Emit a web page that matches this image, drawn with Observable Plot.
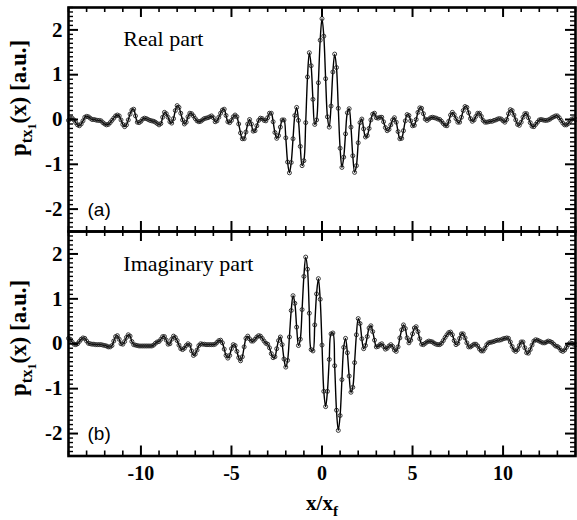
<!DOCTYPE html>
<html><head><meta charset="utf-8">
<script src="https://cdn.jsdelivr.net/npm/d3@7"></script>
<script src="https://cdn.jsdelivr.net/npm/@observablehq/plot@0.6"></script>
<style>
body{margin:0;background:#fff;}
#wrap{position:relative;width:577px;height:520px;overflow:hidden;background:#fff;}
#wrap svg{position:absolute;left:0;}
.lab{position:absolute;font-family:"Liberation Serif","Times New Roman",serif;font-weight:bold;white-space:nowrap;color:#000;line-height:1;}
.lab sub{font-size:72%;}
</style></head><body><div id="wrap"></div>
<script>
// sampling grid: x/x_f from -14 to 14, step 0.1
const xStart = -14, xStep = 0.1;
// Real part (panel a)
const realPart = [
-0.02,0.02,0.03,-0.01,-0.07,-0.12,-0.14,-0.10,-0.03,0.05,
0.07,0.06,0.03,0.00,0.00,-0.01,-0.02,-0.02,-0.03,-0.07,
-0.10,-0.12,-0.11,-0.07,-0.02,0.03,0.08,0.10,0.08,-0.01,
-0.11,-0.16,-0.12,-0.01,0.12,0.21,0.23,0.08,-0.06,-0.07,
-0.04,0.01,0.03,0.02,0.00,-0.02,-0.03,-0.04,-0.06,-0.09,
-0.12,-0.09,0.05,0.16,0.13,0.05,-0.05,-0.08,0.02,0.20,
0.31,0.27,0.14,-0.01,-0.10,-0.06,0.06,0.14,0.13,0.08,
0.02,-0.03,-0.05,-0.04,-0.01,0.02,0.03,0.04,0.06,0.08,
0.04,-0.05,-0.03,0.05,0.14,0.21,0.23,0.09,-0.05,-0.07,
-0.02,0.06,0.10,0.06,-0.10,-0.30,-0.43,-0.43,-0.28,-0.10,
0.00,-0.10,-0.26,-0.25,-0.14,-0.02,0.03,0.02,-0.02,-0.03,
0.04,0.14,0.14,-0.05,-0.29,-0.42,-0.36,-0.17,-0.01,-0.01,
-0.41,-0.95,-1.19,-0.96,-0.43,0.09,0.27,-0.02,-0.60,-1.03,
-0.92,-0.07,0.95,1.49,1.20,0.45,-0.11,-0.01,0.82,1.77,
2.25,1.86,0.91,0.06,-0.17,0.30,1.06,1.46,1.16,0.25,
-0.64,-1.07,-0.84,-0.32,0.15,0.24,-0.17,-0.81,-1.18,-1.03,
-0.52,-0.07,0.01,-0.21,-0.39,-0.36,-0.20,-0.01,0.12,0.14,
0.04,0.03,0.05,0.05,-0.05,-0.18,-0.25,-0.22,-0.12,-0.01,
0.04,-0.06,-0.27,-0.43,-0.42,-0.25,-0.03,0.11,0.09,-0.03,
-0.14,-0.13,0.00,0.16,0.26,0.25,0.13,0.01,-0.02,0.01,
0.04,0.05,0.04,0.03,0.01,0.00,-0.04,-0.09,-0.13,-0.14,
-0.04,0.10,0.16,0.11,0.02,-0.06,-0.06,0.05,0.20,0.29,
0.27,0.15,0.02,-0.04,-0.01,0.07,0.14,0.14,0.07,-0.02,
-0.06,-0.06,-0.05,-0.04,-0.04,-0.02,-0.01,0.01,0.02,0.01,
-0.03,-0.06,0.00,0.13,0.22,0.20,0.10,-0.01,-0.11,-0.13,
-0.06,0.05,0.13,0.13,0.04,-0.07,-0.15,-0.16,-0.11,-0.06,
-0.01,0.00,-0.01,-0.02,-0.02,-0.01,0.01,0.04,0.06,0.08,
0.08,0.04,-0.02,-0.08,-0.12,-0.12,-0.09,-0.04,0.01,0.02,
0.00
];
// Imaginary part (panel b)
const imagPart = [
0.12,0.10,0.04,-0.01,-0.02,0.00,0.05,0.10,0.13,0.12,
0.06,0.01,0.00,-0.01,-0.01,-0.02,-0.02,-0.02,-0.02,-0.03,
-0.04,-0.05,-0.07,-0.07,-0.04,0.06,0.16,0.18,0.10,0.00,
-0.01,0.05,0.14,0.20,0.17,0.05,-0.02,-0.03,-0.04,-0.05,
-0.05,-0.05,-0.05,-0.05,-0.05,-0.05,-0.05,-0.03,0.01,0.04,
0.05,0.10,0.16,0.16,0.08,-0.01,0.00,0.10,0.17,0.14,
0.07,-0.03,-0.11,-0.13,-0.10,-0.04,0.00,-0.03,-0.16,-0.26,
-0.23,-0.14,-0.04,0.00,-0.01,-0.01,-0.02,-0.02,-0.02,-0.02,
-0.02,-0.01,0.03,0.07,0.08,0.02,-0.12,-0.26,-0.32,-0.26,
-0.11,-0.02,-0.04,-0.17,-0.31,-0.38,-0.29,-0.07,0.12,0.17,
0.11,0.06,0.06,0.10,0.15,0.18,0.17,0.12,0.06,0.01,
-0.01,-0.09,-0.22,-0.31,-0.29,-0.11,0.07,0.15,-0.02,-0.34,
-0.52,-0.37,0.15,0.74,1.07,0.90,0.37,-0.04,0.10,0.76,
1.50,1.93,1.66,0.68,-0.13,-0.16,0.42,1.11,1.45,0.99,
-0.03,-1.06,-1.40,-1.06,-0.35,0.22,0.24,-0.49,-1.48,-1.93,
-1.60,-0.80,-0.08,0.12,-0.20,-0.72,-1.08,-0.97,-0.42,0.20,
0.56,0.45,0.11,-0.11,-0.04,0.16,0.35,0.40,0.27,0.08,
-0.07,-0.06,-0.02,0.00,-0.06,-0.12,-0.10,-0.05,-0.02,-0.06,
-0.14,-0.17,-0.07,0.13,0.31,0.42,0.34,0.13,0.02,0.08,
0.22,0.35,0.38,0.27,0.11,-0.01,-0.02,0.01,0.04,0.06,
0.05,0.04,0.01,-0.01,-0.02,-0.02,0.01,0.07,0.14,0.20,
0.25,0.26,0.20,0.07,-0.02,0.01,0.12,0.22,0.22,0.13,
0.02,-0.07,-0.07,-0.04,-0.01,-0.01,-0.05,-0.12,-0.16,-0.16,
-0.10,-0.02,0.02,0.03,0.04,0.05,0.07,0.08,0.08,0.09,
0.11,0.12,0.13,0.12,0.04,-0.06,-0.14,-0.17,-0.13,-0.04,
0.04,0.04,-0.09,-0.20,-0.21,-0.13,-0.03,0.06,0.09,0.08,
0.06,0.04,0.02,0.02,0.04,0.06,0.05,0.03,-0.01,-0.05,
-0.06,-0.09,-0.15,-0.17,-0.14,-0.08,-0.02,0.02,0.01,-0.01,
-0.02
];
const xMajorTicks = [-10, -5, 0, 5, 10];
const xMinorTicks = d3.range(-14, 15).filter(d => d % 5 !== 0);
const yMajorTicks = [-2, -1, 0, 1, 2];
const yMinorTicks = d3.range(-25, 26).map(d => d / 10).filter(d => !Number.isInteger(d));
const panelTitles = ["Real part", "Imaginary part"];
const panelTags = ["(a)", "(b)"];

const xValues = realPart.map((_, i) => +(xStart + i * xStep).toFixed(1));
const wrap = document.getElementById("wrap");

const W = 577, ML = 68, MR = 2, MT = 7;
const FW = W - ML - MR;
const MAJ = 10, MIN = 5;

function basePlot(opts, marks) {
  return Plot.plot({
    width: W,
    height: opts.height,
    marginLeft: ML,
    marginRight: MR,
    marginTop: MT,
    marginBottom: opts.marginBottom,
    x: {domain: [-14, 14], label: null, axis: null},
    y: {domain: [-2.5, 2.5], label: null, axis: null},
    style: {background: "transparent", fontFamily: '"Liberation Serif", serif', fontSize: "18px", color: "#000", overflow: "visible"},
    marks
  });
}

function panel(values, idx, opts) {
  const FH = opts.height - MT - opts.marginBottom;
  const data = values.map((v, i) => ({x: xValues[i], v}));
  // data layer
  const dataMarks = [
    Plot.line(data, {x: "x", y: "v", curve: "catmull-rom", stroke: "#000", strokeWidth: 1.4}),
    Plot.dot(data, {x: "x", y: "v", r: 2, stroke: "#222", strokeWidth: 0.9, fill: "none"}),
    Plot.text(yMajorTicks, {y: d => d, text: d => String(d), frameAnchor: "left", textAnchor: "end", dx: -6, fontSize: 21, fontWeight: "bold"}),
    Plot.text([panelTitles[idx]], {x: -10.97, y: opts.titleY, text: d => d, textAnchor: "start", lineAnchor: "bottom", fontSize: 22, fontFamily: "Liberation Serif"}),
    Plot.text([panelTags[idx]], {x: -12.95, y: -2.15, text: d => d, textAnchor: "start", lineAnchor: "bottom", fontSize: 19, fontFamily: "Liberation Sans"})
  ];
  if (opts.xLabels) {
    dataMarks.push(Plot.text(xMajorTicks, {x: d => d, text: d => String(d), frameAnchor: "bottom", lineAnchor: "top", dy: 10, fontSize: 20, fontWeight: "bold"}));
  }
  const svgData = basePlot(opts, dataMarks);
  svgData.style.top = opts.top + "px";
  wrap.appendChild(svgData);

  // frame and inward ticks layer
  const tk = {stroke: "#000"};
  const tickMarks = [
    Plot.tickY(yMajorTicks, {y: d => d, insetRight: FW - MAJ, strokeWidth: 2, ...tk}),
    Plot.tickY(yMinorTicks, {y: d => d, insetRight: FW - MIN, strokeWidth: 1.4, ...tk}),
    Plot.tickY(yMajorTicks, {y: d => d, insetLeft: FW - MAJ, strokeWidth: 2, ...tk}),
    Plot.tickY(yMinorTicks, {y: d => d, insetLeft: FW - MIN, strokeWidth: 1.4, ...tk}),
    Plot.tickX(xMajorTicks, {x: d => d, insetBottom: FH - MAJ, strokeWidth: 2, ...tk}),
    Plot.tickX(xMinorTicks, {x: d => d, insetBottom: FH - MIN, strokeWidth: 1.6, ...tk}),
    Plot.tickX(xMajorTicks, {x: d => d, insetTop: FH - MAJ, strokeWidth: 2, ...tk}),
    Plot.tickX(xMinorTicks, {x: d => d, insetTop: FH - MIN, strokeWidth: 1.6, ...tk}),
    Plot.frame({strokeWidth: 2.6})
  ];
  const svgTicks = basePlot(opts, tickMarks);
  svgTicks.style.top = opts.top + "px";
  wrap.appendChild(svgTicks);
}

panel(realPart, 0, {top: 0, height: 240, marginBottom: 9, titleY: 1.63, xLabels: false});
panel(imagPart, 1, {top: 224, height: 296, marginBottom: 64.5, titleY: 1.62, xLabels: true});

function addLabel(html, left, top, rotate, size) {
  const d = document.createElement("div");
  d.className = "lab";
  d.innerHTML = html;
  d.style.left = left + "px";
  d.style.top = top + "px";
  d.style.fontSize = size + "px";
  d.style.transform = "translate(-50%,-50%)" + (rotate ? " rotate(-90deg)" : "");
  wrap.appendChild(d);
}
const yTitle = "p<sub>tx<sub>1</sub></sub>(x) [a.u.]";
addLabel(yTitle, 23, 98, true, 23);
addLabel(yTitle, 23, 338, true, 23);
addLabel("x/x<sub>f</sub>", 322, 506, false, 21);
</script>
</body></html>
